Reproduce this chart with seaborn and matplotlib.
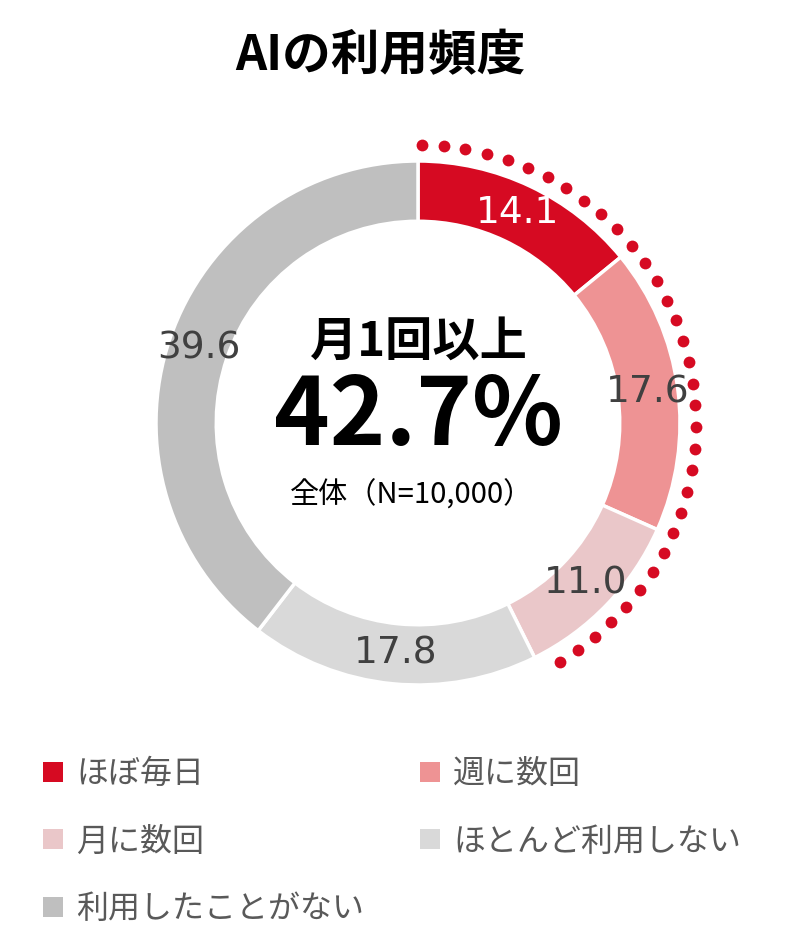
import numpy as np
import seaborn as sns
import matplotlib.pyplot as plt
from matplotlib.lines import Line2D

sns.set_style("white")
plt.rcParams["font.family"] = ["Noto Sans CJK JP", "DejaVu Sans"]

# data
categories = ["ほぼ毎日", "週に数回", "月に数回", "ほとんど利用しない", "利用したことがない"]
shares = [14.1, 17.6, 11.0, 17.8, 39.6]
colors = ["#D60A22", "#EE9394", "#EAC7C9", "#D9D9D9", "#BFBFBF"]
label_colors = ["white", "#404040", "#404040", "#404040", "#404040"]
highlight_n = 3  # 月1回以上 = first three categories
title = "AIの利用頻度"
center_head = "月1回以上"
center_value = "42.7%"
center_note = "全体（N=10,000）"

W, H = 800, 934
fig = plt.figure(figsize=(W / 100, H / 100), dpi=100)

# donut axes: centre (418, 423) px, outer radius 262 px
cx, cy, R = 418, 423, 262
lim = 1.1
side = 2 * lim * R
ax = fig.add_axes([(cx - side / 2) / W, (H - cy - side / 2) / H, side / W, side / H])

wedges, texts = ax.pie(
    shares,
    colors=colors,
    startangle=90,
    counterclock=False,
    radius=1.0,
    labels=[f"{v:.1f}" for v in shares],
    labeldistance=0.885,
    wedgeprops=dict(width=0.23, edgecolor="white", linewidth=2.5),
    textprops=dict(fontsize=27, ha="center", va="center"),
)
for t, c in zip(texts, label_colors):
    t.set_color(c)
    t.set_fontfamily(["DejaVu Sans"])

# dotted arc over the first three segments
total = sum(shares)
arc_end = 360 * sum(shares[:highlight_n]) / total
ang = np.deg2rad(90 - np.linspace(0.8, arc_end - 4.2, 34))
rd = 1.06
ax.plot(rd * np.cos(ang), rd * np.sin(ang), "o", color="#D60A22",
        markersize=8.5, markeredgewidth=0)

ax.set_xlim(-lim, lim)
ax.set_ylim(-lim, lim)
ax.set_aspect("equal")
ax.axis("off")

# centre texts
ax.text(0.0, (cy - 342) / R, center_head, fontsize=34, fontweight="bold",
        ha="center", va="center", color="black")
ax.text(0.0, (cy - 417) / R, center_value, fontsize=68, fontweight="bold",
        ha="center", va="center", color="black")
ax.text(-6 / R, (cy - 495) / R, center_note, fontsize=21,
        ha="center", va="center", color="black")

fig.text(380 / W, 1 - 56 / H, title, fontsize=35, fontweight="bold",
         ha="center", va="center", color="black")

# legend, row-major order in two columns
order = [0, 2, 4, 1, 3]
handles = [Line2D([], [], marker="s", linestyle="none", markersize=14.4,
                  markerfacecolor=colors[i], markeredgewidth=0) for i in order]
fig.legend(handles, [categories[i] for i in order], ncol=2,
           loc="upper left", bbox_to_anchor=(28 / W, 1 - 745 / H),
           frameon=False, fontsize=23, labelcolor="#595959",
           handlelength=0.75, handletextpad=0.35, columnspacing=1.7,
           labelspacing=1.12, borderaxespad=0)

fig.savefig("out.png", dpi=100, facecolor="white")
